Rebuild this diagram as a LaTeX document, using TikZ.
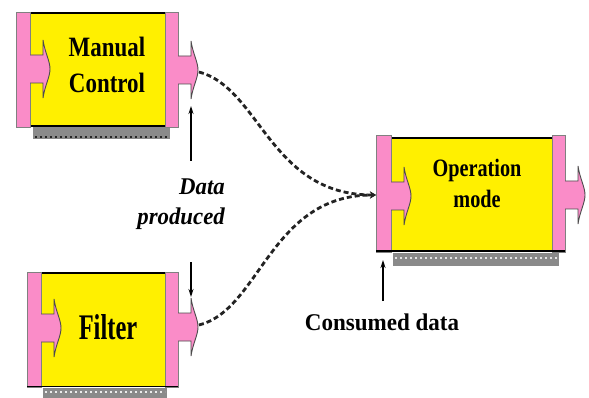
\documentclass[tikz,border=0pt]{standalone}
\usepackage{fontspec}
\setmainfont{Liberation Serif}
\newfontfamily\fmc[FakeStretch=0.82]{Liberation Serif}
\newfontfamily\ffl[FakeStretch=0.68]{Liberation Serif}
\newfontfamily\fop[FakeStretch=0.81]{Liberation Serif}
\newfontfamily\fdp[FakeStretch=0.95]{Liberation Serif}
\newfontfamily\fcd[FakeStretch=0.96]{Liberation Serif}
\usetikzlibrary{arrows.meta}
\definecolor{byellow}{RGB}{255,240,0}
\definecolor{bpink}{RGB}{250,140,200}
\definecolor{bgray}{RGB}{138,138,138}
\definecolor{dline}{RGB}{35,35,35}
\begin{document}
\begin{tikzpicture}[x=1pt,y=-1pt,
  strip/.style={fill=bpink, draw=black!50, line width=0.6pt},
  bodyedge/.style={black, line width=1.6pt},
  bar/.style={fill=bgray, draw=none},
  bardots/.style={line width=2pt, dash pattern=on 2.2pt off 2.8pt},
  label/.style={inner sep=0pt, text=black},
  ptr/.style={black, line width=1.2pt, -{Stealth[length=8pt,width=5pt]}},
  flow/.style={dline, line width=2.8pt, dash pattern=on 5pt off 3pt, -{Stealth[length=6pt,width=7pt]}},
  port/.pic={
    \fill[bpink] (0,-14) -- (13,-14) -- (13,-29) .. controls (15,-16) and (20,-8) .. (20,0)
      .. controls (20,8) and (15,16) .. (13,29) -- (13,14) -- (0,14) -- cycle;
    \draw[black!70, line width=0.9pt] (0,-14) -- (13,-14) -- (13,-29) .. controls (15,-16) and (20,-8) .. (20,0)
      .. controls (20,8) and (15,16) .. (13,29) -- (13,14) -- (0,14);
  }
]
\useasboundingbox (0,0) rectangle (589,398);

% ---------- Manual Control ----------
\fill[bar] (33,127) rectangle (170,139);
\draw[bardots, black!85] (35,137) -- (168,137);
\fill[byellow] (30,13) rectangle (165,126);
\draw[bodyedge] (30,13) -- (165,13);
\draw[bodyedge] (30,126) -- (165,126);
\filldraw[strip] (16,12) rectangle (30,127);
\filldraw[strip] (165,12) rectangle (178,127);
\pic at (30,69) {port};
\pic at (178,70) {port};
\node[label, font=\fmc\bfseries\fontsize{28}{36}\selectfont, align=center] (mct) at (107,65.4) {Manual\\Control};

% ---------- Filter ----------
\fill[bar] (43,388) rectangle (167,400);
\draw[bardots, white!85!gray] (45,392) -- (165,392);
\fill[byellow] (41,273) rectangle (165,386);
\draw[bodyedge] (41,273) -- (165,273);
\filldraw[strip] (27,272) rectangle (41,387);
\filldraw[strip] (165,272) rectangle (178,387);
\draw[bodyedge] (27,386.5) -- (178,386.5);
\pic at (41,328) {port};
\pic at (178,327) {port};
\node[label, font=\ffl\bfseries\fontsize{36}{40}\selectfont, anchor=base] (flt) at (108,339) {Filter};

% ---------- Operation mode ----------
\fill[bar] (393,253) rectangle (559,266);
\draw[bardots, white!80!gray] (395,257.5) -- (557,257.5);
\fill[byellow] (391,138) rectangle (552,250);
\draw[bodyedge] (391,138) -- (552,138);
\filldraw[strip] (376,135) rectangle (391,252);
\filldraw[strip] (552,135) rectangle (565,252);
\draw[bodyedge] (376,251) -- (565,251);
\pic at (391,196) {port};
\pic at (565,195) {port};
\node[label, font=\fop\bfseries\fontsize{25}{31}\selectfont, align=center] (opt) at (477,183) {Operation\\mode};

% ---------- labels ----------
\node[label, font=\fdp\bfseries\itshape\fontsize{24}{30}\selectfont, align=right, anchor=east] (dp) at (225,204.3) {Data\hspace{7pt}\\produced};
\node[label, font=\fcd\bfseries\fontsize{24}{28}\selectfont, anchor=base] (cd) at (382,330) {Consumed data};

% ---------- connector points ----------
\coordinate (mcout) at (199,72);
\coordinate (fltout) at (199,325);
\coordinate (opin) at (376,195);
\coordinate (upS) at (191,161);
\coordinate (upE) at (191,106);
\coordinate (dnS) at (191,262);
\coordinate (dnE) at (191,297);
\coordinate (cdS) at (383,301);
\coordinate (cdE) at (383,260);

\draw[ptr] (upS) -- (upE);
\draw[ptr] (dnS) -- (dnE);
\draw[ptr] (cdS) -- (cdE);

\draw[flow] (mcout) .. controls (260,88) and (270,195) .. (opin);
\draw[flow] (fltout) .. controls (260,310) and (270,195) .. (opin);
\end{tikzpicture}
\end{document}
